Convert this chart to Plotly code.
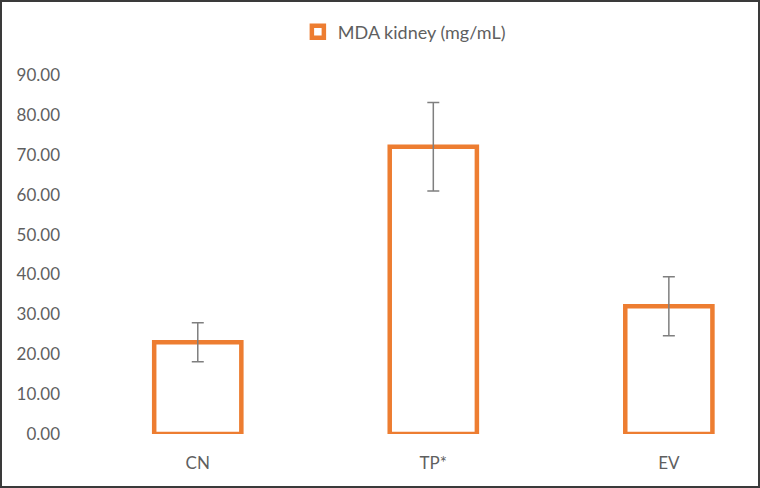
import plotly.graph_objects as go

groups = ["CN", "TP*", "EV"]
mda_mean = [23.0, 72.0, 32.0]
mda_err = [4.9, 11.1, 7.4]
y_ticks = [0, 10, 20, 30, 40, 50, 60, 70, 80, 90]

orange = "#ED7D31"
grey_txt = "#5f5f5f"

fig = go.Figure()

fig.add_trace(
    go.Bar(
        x=[0, 1, 2],
        y=mda_mean,
        name="MDA kidney (mg/mL)",
        width=0.37,
        marker=dict(color="white", line=dict(color=orange, width=4.5)),
        error_y=dict(type="data", array=mda_err, color="#7F7F7F", thickness=1.5, width=6),
    )
)

# plot area: left 80px, right edge of canvas, top 75px, bottom 434px
fig.update_xaxes(
    range=[-0.5, 2.387],
    tickvals=[0, 1, 2],
    ticktext=groups,
    showgrid=False,
    zeroline=False,
    showline=False,
    ticklabelstandoff=17,
    tickfont=dict(family="Lato", size=17, color=grey_txt),
)
fig.update_yaxes(
    range=[0, 90],
    tickvals=y_ticks,
    ticktext=[f"{v:.2f}" for v in y_ticks],
    showgrid=False,
    zeroline=False,
    showline=False,
    ticklabelstandoff=19,
    tickfont=dict(family="Lato", size=17, color=grey_txt),
)

# frame around the whole picture
fig.add_shape(
    type="rect", xref="paper", yref="paper",
    x0=-79 / 680, x1=679 / 680,
    y0=-53 / 359, y1=1 + 74 / 359,
    line=dict(color="#3A3A3A", width=2),
)

fig.update_layout(
    width=760,
    height=488,
    margin=dict(l=80, r=0, t=75, b=54),
    paper_bgcolor="white",
    plot_bgcolor="white",
    showlegend=True,
    legend=dict(
        orientation="h",
        x=0.477, xanchor="center",
        y=1 + 43 / 359, yanchor="middle",
        font=dict(family="Lato", size=18, color=grey_txt),
        itemwidth=30,
    ),
)

# drop the default page margin so the figure sits at the window corner
fig.write_html(
    "out.html",
    config={"displayModeBar": False},
    post_script="document.body.style.margin='0';",
)
